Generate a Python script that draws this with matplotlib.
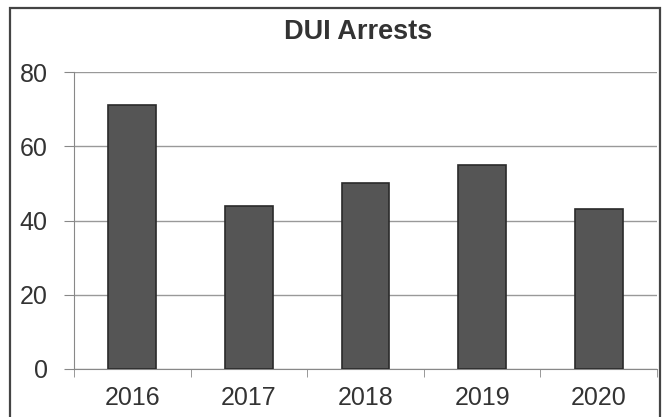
import matplotlib
matplotlib.use("Agg")
import matplotlib.pyplot as plt
from matplotlib.patches import Rectangle
import numpy as np

years = ["2016", "2017", "2018", "2019", "2020"]
arrests = [71, 44, 50, 55, 43]
yticks = [0, 20, 40, 60, 80]

plt.rcParams['font.family'] = ['Liberation Sans', 'DejaVu Sans']

W, H = 663, 417
fig = plt.figure(figsize=(W / 100, H / 100), dpi=100)
ax = fig.add_axes([74 / W, 1 - 369 / H, (657 - 74) / W, (369 - 72) / H])

x = np.arange(len(years))
ax.bar(x, arrests, width=0.41, color="#555555", edgecolor="#2a2a2a", linewidth=1.2, zorder=3)

ax.set_xlim(-0.5, len(years) - 0.5)
ax.set_ylim(0, 80)
ax.set_yticks(yticks)
ax.set_yticklabels([str(v) for v in yticks], fontsize=18, color="#333333")
ax.set_xticks(x)
ax.set_xticklabels(years, fontsize=18, color="#333333")
ax.tick_params(axis="x", length=0, pad=12)
ax.tick_params(axis="y", length=7, color="#888888", pad=12)
ax.set_xticks(np.arange(-0.5, len(years)), minor=True)
ax.tick_params(axis="x", which="minor", length=6, color="#888888", direction="out")

ax.grid(axis="y", color="#999999", linewidth=1.0, zorder=0)
for s in ["top", "right"]:
    ax.spines[s].set_visible(False)
for s in ["left", "bottom"]:
    ax.spines[s].set_color("#888888")

fig.text(358 / W, 1 - 32 / H, "DUI Arrests", ha="center", va="center",
         fontsize=19.5, fontweight="bold", color="#333333")

fig.patches.append(Rectangle((10 / W, -0.02), (660 - 10) / W, 1 - 8 / H + 0.02,
                             transform=fig.transFigure, fill=False,
                             edgecolor="#444444", linewidth=1.6))

fig.savefig("out.png", dpi=100)
